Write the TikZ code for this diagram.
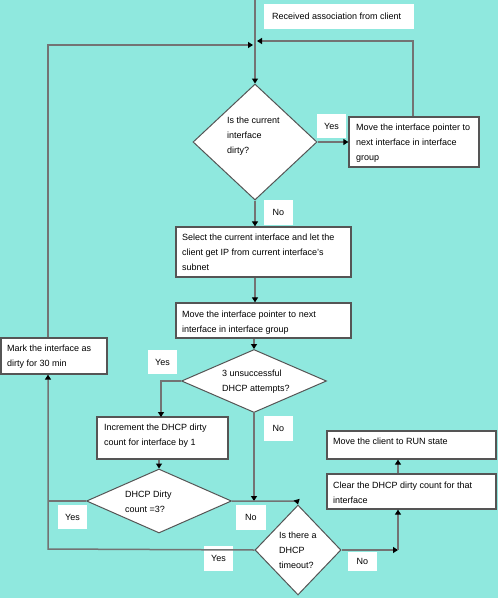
\documentclass[tikz,border=0pt]{standalone}
\usepackage{fontspec}
\setmainfont{Liberation Sans}
\usetikzlibrary{shapes.geometric,arrows.meta}
\definecolor{bgc}{RGB}{143,232,222}
\definecolor{linec}{RGB}{115,115,115}
\definecolor{boxc}{RGB}{85,85,85}
\begin{document}
\begin{tikzpicture}[x=1pt,y=-1pt,
  conn/.style={draw=linec, line width=1.5pt},
  arr/.style={conn, -{Triangle[width=6pt,length=5pt,color=black]}},
  box/.style={rectangle, draw=boxc, line width=1.3pt, fill=white, inner sep=0pt},
  plain/.style={rectangle, fill=white, inner sep=0pt},
  dia/.style={diamond, draw=boxc, line width=1pt, fill=white, inner sep=0pt},
  lbl/.style={rectangle, fill=white, inner sep=0pt, font=\fontsize{9}{15}\selectfont, minimum width=29pt, minimum height=24pt},
  txt/.style={anchor=north west, inner sep=0pt, align=left, font=\fontsize{9}{15}\selectfont}]
\fill[bgc] (0,0) rectangle (498,598);
\useasboundingbox (0,0) rectangle (498,598);

% labels (under the connectors)
\node[lbl] (yes1) at (331.5,126) {Yes};
\node[lbl, minimum height=25pt] (no1) at (278.5,212.5) {No};
\node[lbl] (yes2) at (162.5,362) {Yes};
\node[lbl, minimum height=25pt] (no2) at (278.5,428.5) {No};
\node[lbl] (yes3) at (72.5,517) {Yes};
\node[lbl, minimum width=30pt, minimum height=25pt] (no3) at (251,517.5) {No};
\node[lbl, minimum height=25pt] (yes4) at (218.5,558.5) {Yes};
\node[lbl, minimum height=19pt] (no4) at (362.5,561.5) {No};

% boxes
\node[plain, minimum width=150pt, minimum height=25pt] (recv) at (339,16.5) {};
\node[box, minimum width=130pt, minimum height=50pt] (mv1) at (414,142) {};
\node[box, minimum width=175pt, minimum height=50pt] (sel) at (263.5,252) {};
\node[box, minimum width=175pt, minimum height=35pt] (mv2) at (263.5,320.5) {};
\node[box, minimum width=106pt, minimum height=36pt] (mark) at (54,356) {};
\node[box, minimum width=131pt, minimum height=42pt] (inc) at (162.5,438) {};
\node[box, minimum width=169pt, minimum height=35pt] (clear) at (411.5,491.5) {};
\node[box, minimum width=169pt, minimum height=28pt] (run) at (411.5,445) {};

% diamonds
\node[dia, minimum width=124pt, minimum height=116pt] (d1) at (255,142) {};
\node[dia, minimum width=145pt, minimum height=63pt] (d2) at (254,381) {};
\node[dia, minimum width=145pt, minimum height=64pt] (d3) at (159,501) {};
\node[dia, minimum width=86pt, minimum height=90pt] (d4) at (298,550) {};

% texts
\node[txt] (trecv) at (272,12.5) {Received association from client};
\node[txt] (td1) at (227,117) {Is the current\\interface\\dirty?};
\node[txt] (tmv1) at (356,123.5) {Move the interface pointer to\\next interface in interface\\group};
\node[txt] (tsel) at (182,233.5) {Select the current interface and let the\\client get IP from current interface's\\subnet};
\node[txt] (tmv2) at (182,310.5) {Move the interface pointer to next\\interface in interface group};
\node[txt] (tmark) at (7,344.5) {Mark the interface as\\dirty for 30 min};
\node[txt] (td2) at (222,369.5) {3 unsuccessful\\DHCP attempts?};
\node[txt] (tinc) at (104,423.5) {Increment the DHCP dirty\\count for interface by 1};
\node[txt] (td3) at (125,490.5) {DHCP Dirty\\count =3?};
\node[txt] (td4) at (279,531.5) {Is there a\\DHCP\\timeout?};
\node[txt] (tclear) at (333,481.5) {Clear the DHCP dirty count for that\\interface};
\node[txt] (trun) at (333,437.5) {Move the client to RUN state};

% junction coordinates
\coordinate (top) at (255,0);
\coordinate (jl) at (253,45);
\coordinate (jr) at (257,41);
\coordinate (cl) at (48,45);
\coordinate (cr) at (413,41);
\coordinate (j3) at (254,501);
\coordinate (c4) at (297,501);
\coordinate (c5) at (398,550);
\coordinate (cb) at (48,549);

% connectors
\draw[arr] (top) -- (d1.north);
\draw[arr] (mark.north -| cl) -- (cl) -- (jl);
\draw[arr] (cr |- mv1.north) -- (cr) -- (jr);
\draw[arr] (d1.east) -- (d1.east -| mv1.west);
\draw[arr] (d1.south) -- (d1.south |- sel.north);
\draw[arr] (sel.south -| d1.south) -- (mv2.north -| d1.south);
\draw[arr] (mv2.south -| d2.north) -- (d2.north);
\draw[arr] (d2.west) -- (161,381) -- (161,417);
\draw[arr] (inc.south -| d3.north) -- (d3.north);
\draw[conn] (d3.west) -- (48,501);
\draw[arr] (d2.south) -- (j3);
\draw[arr] (d3.east) -- (c4) -- (d4.north);
\draw[arr] (d4.west) -- (cb) -- (cb |- mark.south);
\draw[arr] (d4.east) -- (c5);
\draw[arr] (c5) -- (c5 |- clear.south);
\draw[arr] (clear.north -| c5) -- (c5 |- run.south);
\end{tikzpicture}
\end{document}
